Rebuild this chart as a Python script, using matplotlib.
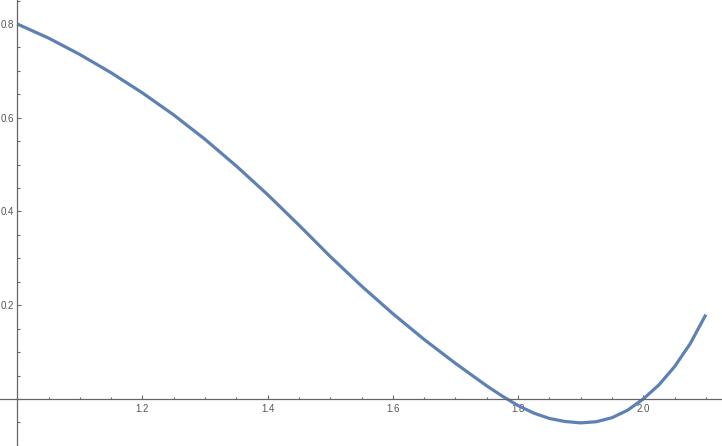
import matplotlib
matplotlib.use("Agg")
import matplotlib.pyplot as plt
from matplotlib.ticker import MultipleLocator, FixedLocator

# points (denser where it bends most)
x = [1.00, 1.05, 1.10, 1.15, 1.20, 1.25, 1.30, 1.35, 1.40, 1.45,
     1.50, 1.55, 1.60, 1.65, 1.70, 1.75, 1.775, 1.80, 1.825, 1.85,
     1.875, 1.90, 1.925, 1.95, 1.975, 2.00, 2.025, 2.05, 2.075, 2.10]
y = [0.800, 0.770, 0.735, 0.696, 0.653, 0.606, 0.554, 0.497, 0.436, 0.371,
     0.304, 0.241, 0.182, 0.127, 0.076, 0.028, 0.006, -0.014, -0.030, -0.0415,
     -0.048, -0.051, -0.0485, -0.040, -0.024, 0.000, 0.030, 0.069, 0.118, 0.180]

xticks = [1.2, 1.4, 1.6, 1.8, 2.0]
yticks = [0.2, 0.4, 0.6, 0.8]

axis_col = "#666666"
label_col = "#555555"

plt.rcParams["font.family"] = ["Liberation Sans", "DejaVu Sans"]

fig = plt.figure(figsize=(7.22, 4.46), dpi=100)
ax = fig.add_axes([0, 0, 1, 1])
ax.plot(x, y, color="#5E81B5", lw=2.3, solid_capstyle="butt",
        solid_joinstyle="round")

ax.set_xlim(0.9725, 2.1258)
ax.set_ylim(-0.1003, 0.8512)

ax.spines["left"].set_position(("data", 1.0))
ax.spines["bottom"].set_position(("data", 0.0))
ax.spines["top"].set_visible(False)
ax.spines["right"].set_visible(False)
for s in ("left", "bottom"):
    ax.spines[s].set_color(axis_col)
    ax.spines[s].set_linewidth(0.9)

ax.xaxis.set_major_locator(FixedLocator(xticks))
ax.yaxis.set_major_locator(FixedLocator(yticks))
ax.xaxis.set_minor_locator(MultipleLocator(0.05))
ax.yaxis.set_minor_locator(MultipleLocator(0.05))
ax.set_xticklabels(["%.1f" % v for v in xticks])
ax.set_yticklabels(["%.1f" % v for v in yticks])

ax.tick_params(which="both", direction="in", color=axis_col, width=0.8,
               labelsize=7, labelcolor=label_col)
ax.tick_params(axis="x", pad=3.5)
ax.tick_params(axis="y", pad=2.5)
ax.tick_params(which="major", length=3)
ax.tick_params(which="minor", length=1.8)

ax.patch.set_visible(False)
fig.savefig("out.png", dpi=100)
